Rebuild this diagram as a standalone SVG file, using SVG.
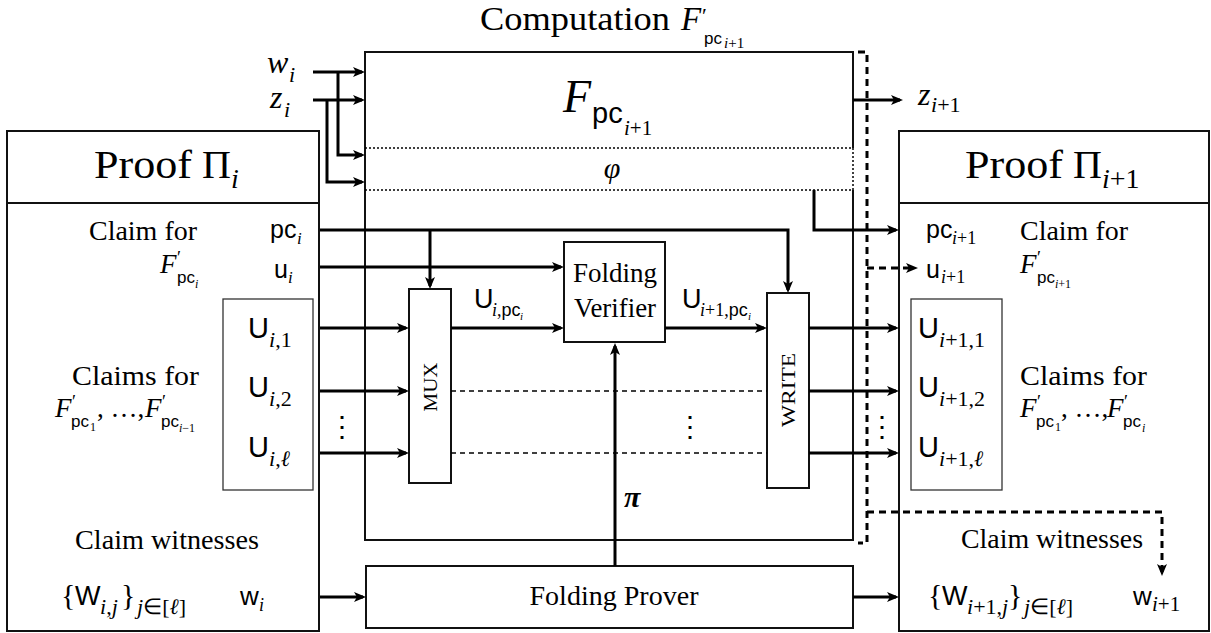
<svg xmlns="http://www.w3.org/2000/svg" width="1211" height="633" viewBox="0 0 1211 633">
<style>
.rm{font-family:"Liberation Serif","Times New Roman",serif}
.it{font-family:"Liberation Serif","Times New Roman",serif;font-style:italic}
.bi{font-family:"Liberation Serif","Times New Roman",serif;font-style:italic;font-weight:bold}
.sf{font-family:"Liberation Sans",Arial,sans-serif}
.box{fill:#fff;stroke:#111;stroke-width:2}
.inner{fill:none;stroke:#333;stroke-width:1.3}
.edge{fill:none;stroke:#111;stroke-width:2}
.arr{fill:none;stroke:#000;stroke-width:3;marker-end:url(#ah)}
.dsh{fill:none;stroke:#000;stroke-width:3;stroke-dasharray:7 5}
.dsha{fill:none;stroke:#000;stroke-width:3;stroke-dasharray:7 5;marker-end:url(#ah)}
.dot{fill:none;stroke:#000;stroke-width:1.5;stroke-dasharray:2 2}
.mdsh{fill:none;stroke:#000;stroke-width:1.6;stroke-dasharray:5 4}
</style>
<defs>
<marker id="ah" markerUnits="userSpaceOnUse" markerWidth="13" markerHeight="11" refX="9" refY="5" orient="auto"><path d="M0,0 L12,5 L0,10 L3,5 z" fill="#000"/></marker>
</defs>

<text class="rm" x="480" y="30" font-size="33" textLength="190" lengthAdjust="spacingAndGlyphs">Computation</text>
<text font-size="33"><tspan class="it" x="681" y="30">F</tspan><tspan class="rm" x="702" y="23" font-size="22">′</tspan><tspan class="sf" x="704" y="44" font-size="17">pc</tspan><tspan class="it" x="724" y="48" font-size="15">i</tspan><tspan class="rm" font-size="15">+1</tspan></text>

<g id="computation">
<path class="edge" d="M853,148 V52 H365 V540 H853 V190"/>
<path class="dot" d="M853,148 V190"/>
<path class="dot" d="M365,148 H853 M365,190 H853"/>
<text><tspan class="it" x="563" y="112" font-size="46">F</tspan><tspan class="sf" x="592" y="123" font-size="29">pc</tspan><tspan class="it" x="624" y="135" font-size="21">i</tspan><tspan class="rm" font-size="21">+1</tspan></text>
<text class="it" x="612" y="178" font-size="30" text-anchor="middle">φ</text>
<text class="sf" x="690" y="436" font-size="28" text-anchor="middle">⋮</text>
</g>

<g id="proof-i">
<rect class="box" x="7" y="131" width="312" height="500"/>
<path class="edge" d="M7,203 H319"/>
<text font-size="40"><tspan class="rm" x="94" y="178" textLength="98" lengthAdjust="spacingAndGlyphs">Proof</tspan><tspan class="rm" x="202" y="178">Π</tspan><tspan class="it" x="231" y="188" font-size="28">i</tspan></text>
<text class="rm" x="89" y="240" font-size="27" textLength="108" lengthAdjust="spacingAndGlyphs">Claim for</text>
<text font-size="27"><tspan class="it" x="160" y="273">F</tspan><tspan class="rm" x="177" y="264" font-size="18">′</tspan><tspan class="sf" x="177" y="283" font-size="17">pc</tspan><tspan class="it" x="195" y="288" font-size="12">i</tspan></text>
<text font-size="25"><tspan class="sf" x="270" y="238">pc</tspan><tspan class="it" x="297" y="244" font-size="17">i</tspan></text>
<text font-size="25"><tspan class="sf" x="274" y="278">u</tspan><tspan class="it" x="288" y="283" font-size="17">i</tspan></text>
<rect class="inner" x="223" y="299" width="90" height="191"/>
<text><tspan class="sf" x="248" y="338" font-size="29">U</tspan><tspan class="it" x="269" y="347" font-size="22">i</tspan><tspan class="rm" font-size="22">,1</tspan></text>
<text><tspan class="sf" x="248" y="397" font-size="29">U</tspan><tspan class="it" x="269" y="406" font-size="22">i</tspan><tspan class="rm" font-size="22">,2</tspan></text>
<text><tspan class="sf" x="248" y="457" font-size="29">U</tspan><tspan class="it" x="269" y="466" font-size="22">i</tspan><tspan class="rm" font-size="22">,</tspan><tspan class="it" font-size="22">ℓ</tspan></text>
<text class="rm" x="72" y="385" font-size="27" textLength="127" lengthAdjust="spacingAndGlyphs">Claims for</text>
<text font-size="27"><tspan class="it" x="55" y="417">F</tspan><tspan class="rm" x="72" y="408" font-size="18">′</tspan><tspan class="sf" x="71" y="427" font-size="17">pc</tspan><tspan class="rm" x="90" y="431" font-size="12">1</tspan><tspan class="rm" x="97" y="417">, …,</tspan><tspan class="it" x="145" y="417">F</tspan><tspan class="rm" x="162" y="408" font-size="18">′</tspan><tspan class="sf" x="161" y="427" font-size="17">pc</tspan><tspan class="it" x="179" y="432" font-size="12">i</tspan><tspan class="rm" font-size="12">−1</tspan></text>
<text class="rm" x="75" y="549" font-size="27" textLength="184" lengthAdjust="spacingAndGlyphs">Claim witnesses</text>
<text font-size="30"><tspan class="rm" x="61" y="605">{</tspan><tspan class="sf" x="75" y="605" font-size="27">W</tspan><tspan class="it" x="100" y="614" font-size="22">i</tspan><tspan class="rm" font-size="22">,</tspan><tspan class="it" font-size="22">j</tspan><tspan class="rm" x="121" y="605">}</tspan><tspan class="it" x="137" y="614" font-size="22">j</tspan><tspan class="rm" font-size="22">∈[</tspan><tspan class="it" font-size="22">ℓ</tspan><tspan class="rm" font-size="22">]</tspan></text>
<text><tspan class="sf" x="240" y="605" font-size="26">w</tspan><tspan class="it" x="259" y="611" font-size="18">i</tspan></text>
<text class="sf" x="342" y="436" font-size="28" text-anchor="middle">⋮</text>
</g>

<g id="mux">
<rect class="box" x="409" y="289" width="42" height="194"/>
<text class="rm" transform="translate(437,387) rotate(-90)" font-size="19" text-anchor="middle" textLength="49" lengthAdjust="spacingAndGlyphs">MUX</text>
</g>

<g id="folding-verifier">
<rect class="box" x="564" y="242" width="101" height="100"/>
<text class="rm" x="615" y="282" font-size="27" text-anchor="middle" textLength="84" lengthAdjust="spacingAndGlyphs">Folding</text>
<text class="rm" x="615" y="317" font-size="27" text-anchor="middle" textLength="82" lengthAdjust="spacingAndGlyphs">Verifier</text>
</g>

<g id="write">
<rect class="box" x="767" y="293" width="42" height="195"/>
<text class="rm" transform="translate(795,390) rotate(-90)" font-size="19" text-anchor="middle" textLength="74" lengthAdjust="spacingAndGlyphs">WRITE</text>
</g>

<g id="folding-prover">
<rect class="box" x="366" y="566" width="487" height="62"/>
<text class="rm" x="614" y="605" font-size="27" text-anchor="middle" textLength="169" lengthAdjust="spacingAndGlyphs">Folding Prover</text>
</g>

<g id="proof-i1">
<rect class="box" x="899" y="131" width="310" height="500"/>
<path class="edge" d="M899,203 H1209"/>
<text font-size="40"><tspan class="rm" x="965" y="178" textLength="98" lengthAdjust="spacingAndGlyphs">Proof</tspan><tspan class="rm" x="1073" y="178">Π</tspan><tspan class="it" x="1102" y="188" font-size="28">i</tspan><tspan class="rm" font-size="28">+1</tspan></text>
<text font-size="25"><tspan class="sf" x="926" y="238">pc</tspan><tspan class="it" x="952" y="244" font-size="18">i</tspan><tspan class="rm" font-size="18">+1</tspan></text>
<text font-size="25"><tspan class="sf" x="926" y="278">u</tspan><tspan class="it" x="941" y="283" font-size="18">i</tspan><tspan class="rm" font-size="18">+1</tspan></text>
<text class="rm" x="1020" y="240" font-size="27" textLength="108" lengthAdjust="spacingAndGlyphs">Claim for</text>
<text font-size="27"><tspan class="it" x="1020" y="273">F</tspan><tspan class="rm" x="1037" y="264" font-size="18">′</tspan><tspan class="sf" x="1037" y="283" font-size="17">pc</tspan><tspan class="it" x="1055" y="288" font-size="12">i</tspan><tspan class="rm" font-size="12">+1</tspan></text>
<rect class="inner" x="911" y="299" width="91" height="191"/>
<text><tspan class="sf" x="918" y="338" font-size="29">U</tspan><tspan class="it" x="939" y="347" font-size="22">i</tspan><tspan class="rm" font-size="22">+1,1</tspan></text>
<text><tspan class="sf" x="918" y="397" font-size="29">U</tspan><tspan class="it" x="939" y="406" font-size="22">i</tspan><tspan class="rm" font-size="22">+1,2</tspan></text>
<text><tspan class="sf" x="918" y="457" font-size="29">U</tspan><tspan class="it" x="939" y="466" font-size="22">i</tspan><tspan class="rm" font-size="22">+1,</tspan><tspan class="it" font-size="22">ℓ</tspan></text>
<text class="rm" x="1020" y="385" font-size="27" textLength="127" lengthAdjust="spacingAndGlyphs">Claims for</text>
<text font-size="27"><tspan class="it" x="1020" y="417">F</tspan><tspan class="rm" x="1037" y="408" font-size="18">′</tspan><tspan class="sf" x="1036" y="427" font-size="17">pc</tspan><tspan class="rm" x="1055" y="431" font-size="12">1</tspan><tspan class="rm" x="1061" y="417">, …,</tspan><tspan class="it" x="1107" y="417">F</tspan><tspan class="rm" x="1124" y="408" font-size="18">′</tspan><tspan class="sf" x="1123" y="427" font-size="17">pc</tspan><tspan class="it" x="1142" y="432" font-size="12">i</tspan></text>
<text class="rm" x="961" y="548" font-size="27" textLength="182" lengthAdjust="spacingAndGlyphs">Claim witnesses</text>
<text font-size="30"><tspan class="rm" x="928" y="605">{</tspan><tspan class="sf" x="942" y="605" font-size="27">W</tspan><tspan class="it" x="967" y="614" font-size="22">i</tspan><tspan class="rm" font-size="22">+1,</tspan><tspan class="it" font-size="22">j</tspan><tspan class="rm" x="1008" y="605">}</tspan><tspan class="it" x="1024" y="614" font-size="22">j</tspan><tspan class="rm" font-size="22">∈[</tspan><tspan class="it" font-size="22">ℓ</tspan><tspan class="rm" font-size="22">]</tspan></text>
<text><tspan class="sf" x="1133" y="605" font-size="26">w</tspan><tspan class="it" x="1152" y="611" font-size="21">i</tspan><tspan class="rm" font-size="21">+1</tspan></text>
<text class="sf" x="882" y="436" font-size="28" text-anchor="middle">⋮</text>
</g>

<g id="labels">
<text><tspan class="it" x="267" y="73" font-size="32">w</tspan><tspan class="it" x="289" y="82" font-size="22">i</tspan></text>
<text><tspan class="it" x="270" y="108" font-size="32">z</tspan><tspan class="it" x="284" y="117" font-size="22">i</tspan></text>
<text><tspan class="it" x="918" y="105" font-size="32">z</tspan><tspan class="it" x="931" y="112" font-size="22">i</tspan><tspan class="rm" font-size="22">+1</tspan></text>
<text class="bi" x="624" y="507" font-size="30">π</text>
<text><tspan class="sf" x="474" y="308" font-size="27">U</tspan><tspan class="it" x="492" y="316" font-size="18">i</tspan><tspan class="rm" font-size="18">,</tspan><tspan class="sf" font-size="18">pc</tspan><tspan class="it" x="520" y="320" font-size="11">i</tspan></text>
<text><tspan class="sf" x="682" y="308" font-size="27">U</tspan><tspan class="it" x="700" y="316" font-size="18">i</tspan><tspan class="rm" font-size="18">+1,</tspan><tspan class="sf" font-size="18">pc</tspan><tspan class="it" x="748" y="320" font-size="11">i</tspan></text>
</g>

<g id="connectors">
<path class="arr" d="M313,72 H362"/>
<path class="arr" d="M338,72 V155 H362"/>
<path class="arr" d="M313,100 H362"/>
<path class="arr" d="M327,100 V182 H362"/>
<path class="arr" d="M853,100 H900"/>
<path class="arr" d="M320,230 H788 V290"/>
<path class="arr" d="M430,230 V286"/>
<path class="arr" d="M320,267 H561"/>
<path class="arr" d="M320,328 H406"/>
<path class="arr" d="M320,391 H406"/>
<path class="arr" d="M320,453 H406"/>
<path class="arr" d="M451,328 H561"/>
<path class="arr" d="M665,328 H764"/>
<path class="arr" d="M809,328 H896"/>
<path class="arr" d="M809,391 H896"/>
<path class="arr" d="M809,453 H896"/>
<path class="mdsh" d="M451,391 H767 M451,453 H767"/>
<path class="arr" d="M615,566 V346"/>
<path class="arr" d="M320,597 H363"/>
<path class="arr" d="M853,597 H896"/>
<path class="arr" d="M814,190 V230 H896"/>
<path class="dsh" d="M858,52 H867 V543 H858"/>
<path class="dsha" d="M867,268 H915"/>
<path class="dsha" d="M867,512 H1162 V573"/>
</g>
</svg>
